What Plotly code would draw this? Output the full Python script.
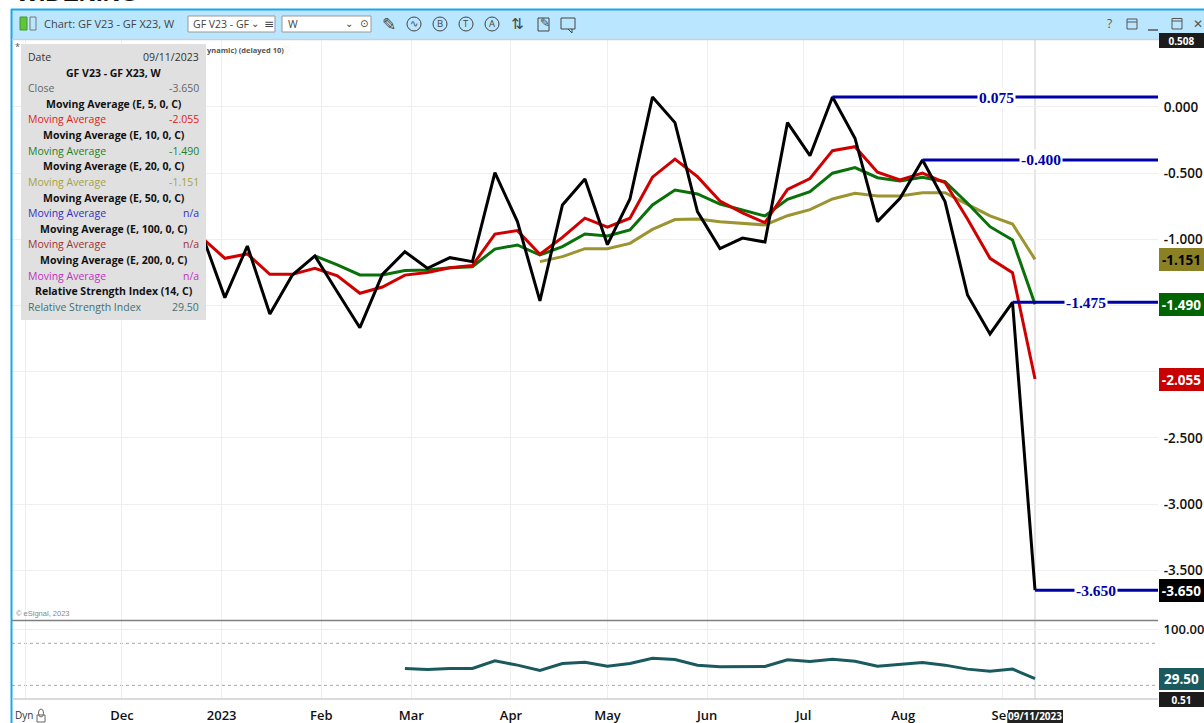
import plotly.graph_objects as go

W, H = 1204, 723

dates = ["2022-12-26","2023-01-02","2023-01-09","2023-01-16","2023-01-23","2023-01-30","2023-02-06","2023-02-13",
         "2023-02-20","2023-02-27","2023-03-06","2023-03-13","2023-03-20","2023-03-27","2023-04-03","2023-04-10",
         "2023-04-17","2023-04-24","2023-05-01","2023-05-08","2023-05-15","2023-05-22","2023-05-29","2023-06-05",
         "2023-06-12","2023-06-19","2023-06-26","2023-07-03","2023-07-10","2023-07-17","2023-07-24","2023-07-31",
         "2023-08-07","2023-08-14","2023-08-21","2023-08-28","2023-09-04","2023-09-11"]

close = [-0.97,-1.44,-1.05,-1.563,-1.269,-1.125,-1.397,-1.667,-1.264,-1.093,-1.218,-1.138,-1.168,-0.496,-0.866,
         -1.465,-0.74,-0.544,-1.04,-0.695,0.075,-0.118,-0.79,-1.07,-0.99,-1.02,-0.118,-0.368,0.075,-0.236,-0.866,
         -0.69,-0.40,-0.715,-1.42,-1.714,-1.475,-3.65]
ema5 = [-0.99,-1.143,-1.11,-1.264,-1.264,-1.218,-1.275,-1.407,-1.36,-1.27,-1.25,-1.214,-1.198,-0.96,-0.934,
        -1.112,-0.985,-0.84,-0.908,-0.84,-0.53,-0.394,-0.526,-0.71,-0.80,-0.874,-0.622,-0.54,-0.33,-0.30,-0.493,
        -0.551,-0.50,-0.571,-0.846,-1.143,-1.251,-2.055]
ema10 = [-1.125,-1.193,-1.269,-1.269,-1.236,-1.231,-1.214,-1.206,-1.073,-1.042,-1.118,-1.055,-0.959,-0.974,-0.929,
         -0.74,-0.627,-0.657,-0.733,-0.778,-0.823,-0.697,-0.64,-0.5,-0.458,-0.534,-0.559,-0.53,-0.564,-0.727,
         -0.904,-1.005,-1.49]
ema20 = [-1.168,-1.13,-1.07,-1.07,-1.03,-0.925,-0.85,-0.846,-0.866,-0.88,-0.891,-0.821,-0.775,-0.695,-0.652,-0.672,
         -0.672,-0.647,-0.647,-0.735,-0.823,-0.884,-1.151]
rsi = [44.15,42.7,44.15,44.15,54.95,48.85,41.3,51.25,53.1,47.4,51.25,58.8,56.95,48.85,46.4,47.0,47.0,56.4,54.1,
       57.4,54.5,47.4,49.8,52.7,48.85,43.15,40.3,43.15,29.5]

level_starts = ["2023-07-10","2023-08-07","2023-09-04","2023-09-11"]
level_values = [0.075,-0.400,-1.475,-3.650]
level_texts = ["0.075","-0.400","-1.475","-3.650"]
level_label_dates = ["2023-08-30","2023-09-13","2023-09-27","2023-09-30"]

x_range = ["2022-10-27 19:00","2023-10-19 06:00"]
y_range = [-3.875,0.506]
rsi_range = [0.51,113.3]
month_ticks = ["2022-11-01","2022-12-01","2023-01-01","2023-02-01","2023-03-01","2023-04-01","2023-05-01",
               "2023-06-01","2023-07-01","2023-08-01","2023-09-01"]
month_labels = ["","Dec","2023","Feb","Mar","Apr","May","Jun","Jul","Aug","Sep"]
price_ticks = [0,-0.5,-1,-1.5,-2,-2.5,-3,-3.5]
price_labels = ["0.000","-0.500","-1.000","","","-2.500","-3.000","-3.500"]

tags = [(-1.151,"-1.151","#8b8124","#000000"),(-1.490,"-1.490","#006400","#ffffff"),
        (-2.055,"-2.055","#c80000","#ffffff"),(-3.650,"-3.650","#000000","#ffffff")]

legend_rows = [("Date","09/11/2023","#333333",False),("GF V23 - GF X23, W",None,"#111111",True),
               ("Close","-3.650","#666666",False),("Moving Average (E, 5, 0, C)",None,"#111111",True),
               ("Moving Average","-2.055","#e02020",False),("Moving Average (E, 10, 0, C)",None,"#111111",True),
               ("Moving Average","-1.490","#1f801f",False),("Moving Average (E, 20, 0, C)",None,"#111111",True),
               ("Moving Average","-1.151","#a8a040",False),("Moving Average (E, 50, 0, C)",None,"#111111",True),
               ("Moving Average","n/a","#3030c0",False),("Moving Average (E, 100, 0, C)",None,"#111111",True),
               ("Moving Average","n/a","#a03030",False),("Moving Average (E, 200, 0, C)",None,"#111111",True),
               ("Moving Average","n/a","#c030c0",False),("Relative Strength Index (14, C)",None,"#111111",True),
               ("Relative Strength Index","29.50","#3f7070",False)]

UI = "Open Sans"
fig = go.Figure()
def line(x, y, color, yaxis="y", width=3):
    fig.add_trace(go.Scatter(x=x, y=y, mode="lines", yaxis=yaxis, xaxis="x" if yaxis == "y" else "x2",
                             line=dict(color=color, width=width), hoverinfo="skip", showlegend=False))
line(dates[-len(ema20):], ema20, "#9c9431")
line(dates[-len(ema10):], ema10, "#0a700a")
line(dates, ema5, "#d00000")
line(dates, close, "#000000")
for s, v in zip(level_starts, level_values):
    line([s, x_range[1]], [v, v], "#0000a8")
line(dates[-len(rsi):], rsi, "#1a5a5e", yaxis="y2")

px = lambda x: x / W
py = lambda y: 1 - y / H
shapes, notes = [], []
def R(x0, y0, x1, y1, fill=None, color=None, width=1, kind="rect", layer="above"):
    shapes.append(dict(type=kind, xref="paper", yref="paper", x0=px(x0), x1=px(x1), y0=py(y0), y1=py(y1),
                       fillcolor=fill, line=dict(color=color, width=width if color else 0), layer=layer))
def L(x0, y0, x1, y1, color, width=1, dash=None, layer="above"):
    shapes.append(dict(type="line", xref="paper", yref="paper", x0=px(x0), x1=px(x1), y0=py(y0), y1=py(y1),
                       line=dict(color=color, width=width, dash=dash), layer=layer))
def T(x, y, text, size=11, color="#333333", anchor="left", bold=False, font=UI, **kw):
    notes.append(dict(xref="paper", yref="paper", x=px(x), y=py(y), text=f"<b>{text}</b>" if bold else text,
                      showarrow=False, xanchor=anchor, yanchor="middle", borderpad=0,
                      font=dict(size=size, color=color, family=font), **kw))

# window chrome
R(11, 9, 1204, 39, "#bbe6ff")
L(11, 9.5, 1204, 9.5, "#1aa7ec", 2)
L(11.5, 9, 11.5, 723, "#1aa7ec", 2)
L(12, 39.5, 1204, 39.5, "#cfcfcf", 1.5)
R(20, 17, 27, 30, "#62c43c", "#3f9a2a", 1)
R(30, 17, 36, 30, "rgba(0,0,0,0)", "#777777", 1)
T(43, 24, "Chart: GF V23 - GF X23, W", 11, "#444444")
R(188, 16, 275, 32, "#ffffff", "#999999", 1)
T(192, 24, "GF V23 - GF", 10.5, "#444444")
T(255, 23, "⌄", 10, "#444444", "center", font="DejaVu Sans")
T(269, 24, "≡", 12, "#444444", "center", font="DejaVu Sans")
R(282, 16, 371, 32, "#ffffff", "#999999", 1)
T(287, 24, "W", 10.5, "#444444")
T(349, 23, "⌄", 10, "#444444", "center", font="DejaVu Sans")
T(364, 24, "⊙", 10, "#444444", "center", font="DejaVu Sans")
T(389, 24, "✎", 17, "#444444", "center", font="DejaVu Sans")
for cx, ch in [(414, "∿"), (440, "B"), (466, "T"), (492, "A")]:
    R(cx - 7, 17, cx + 7, 31, None, "#444444", 1, "circle")
    T(cx, 24, ch, 9.5, "#444444", "center")
T(517, 24, "⇅", 15, "#444444", "center", font="DejaVu Sans")
R(538, 18, 549, 31, None, "#444444", 1)
T(545, 23, "✎", 12, "#444444", "center", font="DejaVu Sans")
R(561, 18, 575, 29, None, "#444444", 1)
L(568, 29, 572, 33, "#444444", 1)
L(572, 29, 572, 33, "#444444", 1)
T(1109, 24, "?", 12, "#555555", "center")
R(1127, 19, 1137, 29, None, "#555555", 1)
L(1127, 22, 1137, 22, "#555555", 1)
L(1148, 30, 1158, 30, "#555555", 1.5)
R(1172, 18.5, 1182, 29, None, "#555555", 1)
L(1172, 21, 1182, 21, "#555555", 1)
T(1198, 24, "✕", 12, "#555555", "center", font="DejaVu Sans")

# separators
L(12, 620.5, 1158, 620.5, "#808080", 1.5)
L(12, 699, 1158, 699, "#cfcfcf", 1.5)
shapes.append(dict(type="line", xref="x", yref="paper", x0=dates[-1], x1=dates[-1], y0=py(699), y1=py(40),
                   line=dict(color="#cccccc", width=1), layer="below"))
for v in (80, 20):
    shapes.append(dict(type="line", xref="paper", yref="y2", x0=px(12), x1=px(1158), y0=v, y1=v,
                       line=dict(color="#a8a8a8", width=1, dash="dot"), layer="below"))

# tooltip
R(21, 44, 206, 320, "#e0e0e0")
for i, (a, b, c, bold) in enumerate(legend_rows):
    y = 57 + i * 15.62
    if b is None:
        T(113.5, y, a, 10.5, c, "center", bold=True)
    else:
        T(27, y, a, 10.5, c)
        T(200, y, b, 10.5, c, "right")
T(17, 47, "*", 9, "#555555", "center")
T(206, 50, "ynamic) (delayed 10)", 7.5, "#555555", bold=True)
T(286, 50, "♡", 10, "#f2d060", "center", font="DejaVu Sans")
T(15, 613, "© eSignal, 2023", 7.5, "#888888", font="Liberation Sans")
T(14, 715, "Dyn", 10, "#333333")
R(37, 715, 45, 722, None, "#666666", 1)
R(38.5, 709, 43.5, 717, None, "#666666", 1, "circle")

# level labels
for d, v, t in zip(level_label_dates, level_values, level_texts):
    notes.append(dict(xref="x", yref="y", x=d, y=v, text=f"<b>{t}</b>", showarrow=False, bgcolor="#ffffff",
                      borderpad=1, font=dict(size=15.5, color="#0000a8", family="Liberation Serif")))

# value tags
def tag(y, yref, text, bg, fg, h, size=13.5):
    notes.append(dict(xref="paper", yref=yref, x=px(1159), y=y, xanchor="left", yanchor="middle", text=f"<b>{text}</b>",
                      showarrow=False, width=45, height=h, align="center", valign="middle", bgcolor=bg, borderpad=0,
                      borderwidth=0, font=dict(size=size, color=fg, family=UI)))
for v, t, bg, fg in tags:
    tag(v, "y", t, bg, fg, 23)
tag(rsi[-1], "y2", "29.50", "#1a5a5e", "#ffffff", 22)
tag(rsi_range[0], "y2", "0.51", "#1c1c1c", "#ffffff", 15, 10)
tag(y_range[1], "y", "0.508", "#1c1c1c", "#ffffff", 15, 10)
R(1008, 710, 1063, 723, "#222222")
notes.append(dict(xref="x2", yref="paper", x=dates[-1], y=py(716), xanchor="center", yanchor="middle",
                  text="<b>09/11/2023</b>", showarrow=False, borderpad=0,
                  font=dict(size=10, color="#ffffff", family=UI)))
T(15, -8, "WIDENING", 24, "#111111", bold=True, font="Liberation Sans")

x_font = dict(size=13, color="#111111", family=UI, weight=600)
y_font = dict(size=13.5, color="#111111", family=UI, weight=600)
grid = "#efefef"
fig.update_layout(
    width=W, height=H, margin=dict(l=0, r=0, t=0, b=0), paper_bgcolor="#ffffff", plot_bgcolor="#ffffff",
    showlegend=False, shapes=shapes, annotations=notes, hovermode=False,
    xaxis=dict(domain=[px(12), px(1158)], range=x_range, type="date", anchor="y", tickvals=month_ticks,
               showticklabels=False, showgrid=True, gridcolor=grid, zeroline=False, ticks=""),
    xaxis2=dict(domain=[px(12), px(1158)], range=x_range, type="date", anchor="y2", tickvals=month_ticks,
                ticktext=month_labels, tickfont=x_font, showgrid=True, gridcolor=grid, zeroline=False,
                ticks="outside", ticklen=4, tickcolor="rgba(0,0,0,0)", tickangle=0),
    yaxis=dict(domain=[py(620), py(40)], range=y_range, anchor="x", side="right", tickvals=price_ticks,
               ticktext=price_labels, tickfont=y_font, showgrid=True, gridcolor=grid, zeroline=False,
               ticks="outside", ticklen=2, tickcolor="rgba(0,0,0,0)"),
    yaxis2=dict(domain=[py(699), py(620)], range=rsi_range, anchor="x2", side="right", tickvals=[100],
                ticktext=["100.00"], tickfont=x_font, showgrid=True, gridcolor=grid, zeroline=False,
                ticks="outside", ticklen=2, tickcolor="rgba(0,0,0,0)"),
)
fig.write_html("out.html", config=dict(displayModeBar=False),
               post_script="document.documentElement.style.margin='0';document.body.style.margin='0';document.body.style.overflow='hidden';document.querySelector('.plotly-graph-div').style.display='block';")
